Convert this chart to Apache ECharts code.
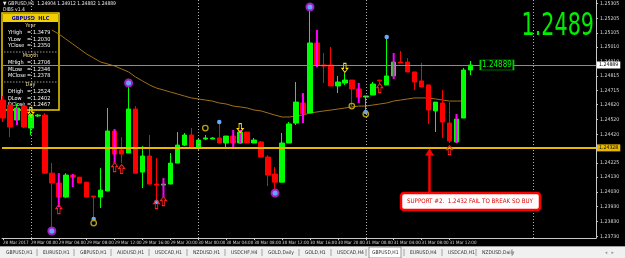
<!DOCTYPE html>
<html><head><meta charset="utf-8">
<script src="https://cdn.jsdelivr.net/npm/echarts@6/dist/echarts.min.js"></script>
<style>html,body{margin:0;padding:0;background:#000;}#c{width:625px;height:258px;}</style>
</head><body><div id="c"></div>
<script>
// ---- data ----
const timeTickIdx = [0,4,8,12,16,20,24,28,32,36,40,44,48,52,56,60,64];
const timeTickLabels = ['28 Mar 2017','29 Mar 00:00','29 Mar 04:00','29 Mar 08:00','29 Mar 12:00','29 Mar 16:00','29 Mar 20:00','30 Mar 00:00','30 Mar 04:00','30 Mar 08:00','30 Mar 12:00','30 Mar 16:00','30 Mar 20:00','31 Mar 00:00','31 Mar 04:00','31 Mar 08:00','31 Mar 12:00'];
const dayStartIdx = [4,28,52,76];
const priceTicks = [1.2373,1.2383,1.2393,1.2403,1.2413,1.24225,1.24325,1.2442,1.2452,1.2462,1.24715,1.24815,1.2491,1.2501,1.25105,1.25205,1.25305];
const xMin = -1/7, xMax = 85, yMin = 1.23718, yMax = 1.25329;

const opens = [1.24652,1.24618,1.24517,1.24611,1.24462,1.24544,1.24550,1.24157,1.24090,1.23995,
1.24144,1.24130,1.24096,1.24002,1.23995,1.24036,1.24442,1.24313,1.24293,1.24591,
1.24164,1.24273,1.24083,1.24076,1.24083,1.24225,1.24347,1.24415,1.24327,1.24388,
1.24388,1.24395,1.24361,1.24408,1.24361,1.24435,1.24361,1.24368,1.24266,1.24151,
1.24096,1.24361,1.24496,1.24632,1.24564,1.25038,1.24889,1.24889,1.24747,1.24767,
1.24787,1.24727,1.24672,1.24686,1.24787,1.24754,1.24815,1.24909,1.24909,1.24842,
1.24781,1.24754,1.24578,1.24632,1.24496,1.24368,1.24530,1.24855];
const closes = [1.24530,1.24469,1.24598,1.24469,1.24550,1.24550,1.24157,1.24090,1.23995,1.24144,
1.24130,1.24090,1.23995,1.23995,1.24042,1.24442,1.24286,1.24286,1.24591,1.24157,
1.24273,1.24083,1.24076,1.24083,1.24225,1.24347,1.24415,1.24327,1.24381,1.24395,
1.24395,1.24361,1.24408,1.24361,1.24435,1.24361,1.24381,1.24266,1.24144,1.24096,
1.24361,1.24490,1.24638,1.24557,1.25038,1.24889,1.24882,1.24747,1.24774,1.24787,
1.24727,1.24672,1.24679,1.24760,1.24781,1.24815,1.24909,1.24903,1.24842,1.24774,
1.24740,1.24584,1.24638,1.24503,1.24374,1.24523,1.24855,1.24889];
const lows = [1.24503,1.24401,1.24510,1.24462,1.24415,1.24537,1.24151,1.23752,1.23989,1.23989,
1.24123,1.24090,1.23995,1.23860,1.23921,1.24036,1.24286,1.24225,1.24293,1.24157,
1.24056,1.24083,1.23975,1.23995,1.24083,1.24225,1.24340,1.24327,1.24313,1.24381,
1.24388,1.24361,1.24327,1.24361,1.24361,1.24361,1.24361,1.24266,1.24070,1.24036,
1.24096,1.24361,1.24483,1.24557,1.24564,1.24889,1.24767,1.24747,1.24699,1.24754,
1.24611,1.24672,1.24571,1.24686,1.24760,1.24754,1.24801,1.24903,1.24842,1.24720,
1.24740,1.24490,1.24435,1.24395,1.24361,1.24361,1.24530,1.24821];
const highs = [1.24679,1.24652,1.24625,1.24638,1.24564,1.24557,1.24564,1.24225,1.24110,1.24157,
1.24151,1.24130,1.24096,1.24002,1.24191,1.24598,1.24456,1.24401,1.24767,1.24611,
1.24340,1.24415,1.24259,1.24123,1.24293,1.24435,1.24429,1.24462,1.24388,1.24415,
1.24401,1.24496,1.24408,1.24408,1.24442,1.24435,1.24395,1.24374,1.24279,1.24198,
1.24429,1.24503,1.24774,1.24638,1.25295,1.25038,1.24970,1.25011,1.24815,1.24836,
1.24787,1.24727,1.24679,1.24774,1.24787,1.25079,1.24923,1.24984,1.24936,1.24842,
1.24903,1.24754,1.24638,1.24720,1.24638,1.24557,1.24869,1.24916];

const maStart = 7;
const maValues = [1.25126,1.25099,1.25065,1.25031,1.24997,1.24963,1.24936,1.24909,1.24896,1.24882,
1.24862,1.24842,1.24808,1.24781,1.24754,1.24733,1.24720,1.24706,1.24693,1.24679,
1.24666,1.24659,1.24652,1.24645,1.24632,1.24625,1.24611,1.24605,1.24598,1.24584,
1.24578,1.24564,1.24550,1.24537,1.24537,1.24544,1.24550,1.24564,1.24571,1.24578,
1.24584,1.24591,1.24598,1.24605,1.24611,1.24611,1.24618,1.24625,1.24632,1.24645,
1.24652,1.24659,1.24666,1.24666,1.24666,1.24659,1.24652,1.24645,1.24645,1.24645];

const magIdx  = [2,8,10,16,23,33,34,43,45,51,56,65];
const magLow  = [1.24483,1.23928,1.24063,1.24225,1.23995,1.24334,1.24354,1.24496,1.24875,1.24632,1.24794,1.24361];
const magHigh = [1.24598,1.24157,1.24151,1.24456,1.24123,1.24449,1.24449,1.24699,1.25126,1.24767,1.24970,1.24557];

const purpleIdx = [7,18,39,44];
const purplePrice = [1.23765,1.24767,1.24022,1.25282];
const blueIdx = [13,22,31,52,55];
const bluePrice = [1.23846,1.23961,1.24503,1.24571,1.25079];
const ringIdx = [13,29,50,52];
const ringPrice = [1.23819,1.24462,1.24611,1.24557];
const upArrowIdx = [8,16,17,22,23,54,64];
const upArrowPrice = [1.23914,1.24198,1.24185,1.23948,1.23968,1.24733,1.24313];
const downArrowIdx = [4,34,49];
const downArrowPrice = [1.24571,1.24462,1.24869];

const supportLevel = 1.24328;
const bidPrice = 1.24889;
const bigPriceText = '1.2489';
const headerText = '\u25BC GBPUSD,H1  1.24904 1.24912 1.24882 1.24889';
const indicatorName = 'DIBS v1.4';
const hlcTitle = 'GBPUSD  HLC';
const hlcSections = [
  {name:'Year',  rows:[['YHigh','1.3479'],['YLow','1.2030'],['YClose','1.2350']]},
  {name:'Month', rows:[['MHigh','1.2706'],['MLow','1.2346'],['MClose','1.2378']]},
  {name:'Day',   rows:[['DHigh','1.2524'],['DLow','1.2402'],['DClose','1.2467']]}
];
const annotationText = 'SUPPORT #2.  1.2432 FAIL TO BREAK SO BUY';
const annotationArrowIdx = 61.14;
const annotationArrowFrom = 1.24029;
const annotationArrowTo = 1.24300;
const tabs = ['GBPUSD,H1','EURUSD,H1','GBPUSD,H1','AUDUSD,H1','USDCAD,H1','NZDUSD,H1','USDCHF,H4','GOLD,Daily','GOLD,H1','USDCAD,H4','GBPUSD,H1','EURUSD,H4','USDCAD,H1','NZDUSD,Daily'];
const activeTab = 10;

// ---- chart ----
const NARROW = "'Liberation Sans Narrow','DejaVu Sans Condensed','Liberation Sans',Arial,sans-serif";
const chart = echarts.init(document.getElementById('c'), null, {renderer:'canvas'});

const candleData = opens.map((o,i)=>[i,o,closes[i],lows[i],highs[i]]);
const maData = maValues.map((v,k)=>[maStart+k,v]);
const magData = magIdx.map((x,k)=>[x,magLow[k],magHigh[k]]);
const pairs = (a,b)=>a.map((x,k)=>[x,b[k]]);

const UP = 'path://M4,0 L8,4 L5.6,4 L5.6,9 L2.4,9 L2.4,4 L0,4 Z';
const DOWN = 'path://M2.4,0 L5.6,0 L5.6,5 L8,5 L4,9 L0,5 L2.4,5 Z';

// graphic (panels, texts, tab bar)
const g = [];
g.push({type:'text', left:3, top:1, z:50, style:{text:headerText, fill:'#e8e8e8', font:'5px '+NARROW}});
g.push({type:'text', left:3, top:7, z:50, style:{text:indicatorName, fill:'#e8e8e8', font:'5px '+NARROW}});
g.push({type:'text', x:594, y:11, scaleX:0.72, z:50, style:{text:bigPriceText, fill:'#00ee00', font:'32px '+NARROW, align:'right', verticalAlign:'top'}});

const panel = [];
panel.push({type:'rect', shape:{x:0,y:0,width:57,height:97}, style:{fill:'#000', stroke:'#f0d000', lineWidth:1.5}});
panel.push({type:'rect', shape:{x:1,y:1,width:55,height:8}, style:{fill:'#f0d000'}});
panel.push({type:'text', x:28.5, y:5.2, style:{text:hlcTitle, fill:'#0000b0', font:'bold 5.5px '+NARROW, align:'center', verticalAlign:'middle'}});
const secY = [13,43,72];
hlcSections.forEach((s,si)=>{
  const y0 = secY[si];
  panel.push({type:'text', x:28.5, y:y0, style:{text:s.name, fill:'#f0d890', font:'5.5px '+NARROW, align:'center', verticalAlign:'middle'}});
  s.rows.forEach((r,ri)=>{
    const y = y0 + 7 + ri*6.5;
    panel.push({type:'text', x:6, y:y, style:{text:r[0], fill:'#ffffff', font:'5.5px '+NARROW, verticalAlign:'middle'}});
    panel.push({type:'text', x:25, y:y, style:{text:'=', fill:'#ffffff', font:'5.5px '+NARROW, verticalAlign:'middle'}});
    panel.push({type:'text', x:31, y:y, style:{text:r[1], fill:'#ffffff', font:'5.5px '+NARROW, verticalAlign:'middle'}});
  });
  if (si < 2) panel.push({type:'line', shape:{x1:2,y1:y0+26,x2:55,y2:y0+26}, style:{stroke:'#bbbbbb', lineWidth:0.8, lineDash:[1.5,1.5]}});
});
g.push({type:'group', x:2, y:13, z:60, children:panel});

g.push({type:'rect', z:60, shape:{x:401,y:193,width:139,height:17,r:3}, style:{fill:'#ffffff', stroke:'#ff0000', lineWidth:2.5}});
g.push({type:'text', z:61, x:407, y:201.5, style:{text:annotationText, fill:'#e00000', font:'6.2px '+NARROW, verticalAlign:'middle'}});

g.push({type:'rect', z:40, shape:{x:0,y:246,width:625,height:12}, style:{fill:'#f0f0f0'}});
g.push({type:'line', z:41, shape:{x1:0,y1:246.5,x2:625,y2:246.5}, style:{stroke:'#a0a0a0', lineWidth:1}});
const tabX = [6,43,80,117,155,193,231,268,305,337,372,410,448,482];
tabs.forEach((t,k)=>{
  const x = tabX[k];
  if (k===activeTab) g.push({type:'rect', z:41, shape:{x:x-3,y:247,width:32,height:11}, style:{fill:'#ffffff', stroke:'#808080', lineWidth:0.8}});
  g.push({type:'text', z:42, x:x, y:252.5, style:{text:t, fill:'#303030', font:'5px '+NARROW, verticalAlign:'middle'}});
  const sepX = (k<tabs.length-1 ? tabX[k+1] : x+36) - 6;
  g.push({type:'line', z:42, shape:{x1:sepX,y1:249,x2:sepX,y2:256}, style:{stroke:'#909090', lineWidth:0.8}});
});
g.push({type:'text', z:42, x:605, y:252.5, style:{text:'\u25C2   \u25B8', fill:'#909090', font:'5px '+NARROW, verticalAlign:'middle'}});

const hLine = (v, color, width, labelBg) => [
  {coord:[xMin, v], symbol:'none', lineStyle:{color:color, width:width, type:'solid'},
   label:{show:true, position:'end', distance:1, formatter:v.toFixed(5), backgroundColor:labelBg, color:'#000', fontSize:5.2, fontFamily:NARROW, padding:[1,2]}},
  {coord:[xMax, v], symbol:'none'}
];
const vLine = (d) => [
  {coord:[d, yMin], symbol:'none', lineStyle:{color:'#b0b0b0', width:1, type:[1,2]}, label:{show:false}},
  {coord:[d, yMax], symbol:'none'}
];

const option = {
  backgroundColor:'#000',
  animation:false,
  grid:{left:0, right:29, top:0, bottom:20, show:false},
  xAxis:{
    type:'value', min:xMin, max:xMax,
    axisLine:{show:true, onZero:false, lineStyle:{color:'#c8c8c8', width:1}},
    axisTick:{show:true, customValues:timeTickIdx, length:2, lineStyle:{color:'#c8c8c8'}},
    axisLabel:{show:true, customValues:timeTickIdx, margin:2, align:'left', color:'#d8d8d8', fontSize:4.5, fontFamily:NARROW,
      formatter:(v)=>{const k=timeTickIdx.indexOf(Math.round(v)); return k>=0?timeTickLabels[k]:'';}},
    splitLine:{show:false}
  },
  yAxis:{
    type:'value', position:'right', min:yMin, max:yMax,
    axisLine:{show:true, onZero:false, lineStyle:{color:'#c8c8c8', width:1}},
    axisTick:{show:true, customValues:priceTicks, length:2, lineStyle:{color:'#c8c8c8'}},
    axisLabel:{show:true, customValues:priceTicks, margin:4, color:'#d8d8d8', fontSize:5.2, fontFamily:NARROW,
      formatter:(v)=>v.toFixed(5)},
    splitLine:{show:false}
  },
  series:[
    {
      type:'line', name:'MA', data:maData, showSymbol:false, z:2,
      lineStyle:{color:'#a0701a', width:1},
      markLine:{
        symbol:'none', silent:true, animation:false,
        data:[ ...dayStartIdx.map(vLine), hLine(bidPrice,'#8c8c8c',1,'#ffffff'), hLine(supportLevel,'#e8b800',2,'#e8b800') ]
      }
    },
    {
      type:'candlestick', data:candleData, encode:{x:0, y:[1,2,3,4]}, barWidth:5, z:3,
      itemStyle:{color:'#00ff00', color0:'#ff0000', borderColor:'#00ff00', borderColor0:'#ff0000', borderWidth:1},
      markLine:{
        silent:true, animation:false,
        data:[
          [{coord:[annotationArrowIdx, annotationArrowFrom], symbol:'none'},
           {coord:[annotationArrowIdx, annotationArrowTo], symbol:'triangle', symbolSize:[9,7], lineStyle:{color:'#ff0000', width:2.5, type:'solid'}, label:{show:false}}]
        ]
      },
      markPoint:{
        silent:true, animation:false,
        data:[{coord:[70.8, bidPrice], symbol:'rect', symbolSize:[33,10], itemStyle:{color:'#000', borderColor:'#00cc00', borderWidth:1},
          label:{show:true, position:'inside', formatter:bidPrice.toFixed(5), color:'#00ff00', fontSize:8, fontFamily:NARROW}}]
      }
    },
    {
      type:'custom', data:magData, encode:{x:0, y:[1,2]}, z:4,
      renderItem:(params, api)=>{
        const x = api.value(0);
        const a = api.coord([x, api.value(1)]);
        const b = api.coord([x, api.value(2)]);
        return {type:'line', shape:{x1:a[0], y1:a[1], x2:b[0], y2:b[1]}, style:{stroke:'#ff00ff', lineWidth:2}};
      }
    },
    {type:'scatter', data:pairs(purpleIdx,purplePrice), symbol:'circle', symbolSize:7, z:5,
      itemStyle:{color:'#60a8ff', borderColor:'#a020c0', borderWidth:2, opacity:1}},
    {type:'scatter', data:pairs(blueIdx,bluePrice), symbol:'circle', symbolSize:4.5, z:5,
      itemStyle:{color:'#6aa8ff', opacity:1}},
    {type:'scatter', data:pairs(ringIdx,ringPrice), symbol:'circle', symbolSize:5.5, z:5,
      itemStyle:{color:'rgba(0,0,0,0)', borderColor:'#b8a010', borderWidth:1.3, opacity:1}},
    {type:'scatter', data:pairs(upArrowIdx,upArrowPrice), symbol:UP, symbolSize:[6,9], z:5,
      itemStyle:{color:'rgba(0,0,0,0)', borderColor:'#ff2020', borderWidth:1, opacity:1}},
    {type:'scatter', data:pairs(downArrowIdx,downArrowPrice), symbol:DOWN, symbolSize:[6,9], z:5,
      itemStyle:{color:'rgba(0,0,0,0)', borderColor:'#ffe000', borderWidth:1, opacity:1}}
  ],
  graphic:g
};
chart.setOption(option);
</script></body></html>
